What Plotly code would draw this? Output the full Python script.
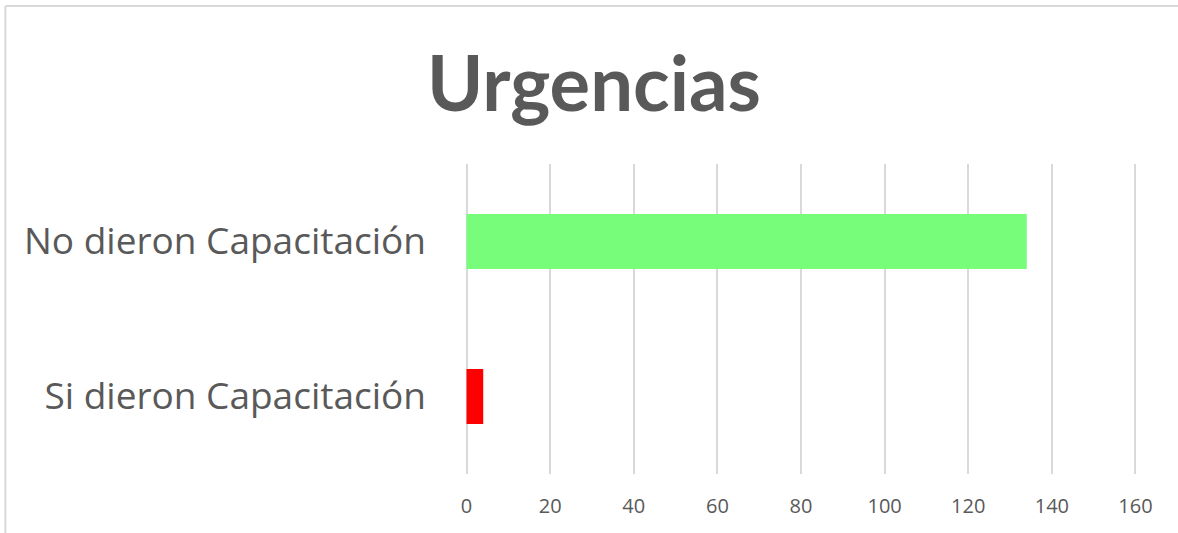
import plotly.graph_objects as go

categories = ["Si dieron Capacitación", "No dieron Capacitación"]
values = [4, 134]
colors = ["#FF0000", "#77FD7A"]
x_ticks = [0, 20, 40, 60, 80, 100, 120, 140, 160]
title_text = "Urgencias"

W, H = 1178, 533
L, R, T, B = 464, 1138.5, 164, 474

fig = go.Figure(go.Bar(
    x=values, y=categories, orientation="h",
    marker=dict(color=colors, line=dict(width=0)),
    hoverinfo="x+y",
))

def px_x(p):
    return (p - L) / (R - L)

def px_y(p):
    return (B - p) / (B - T)

grey = "#595959"
grid = "#d9d9d9"
fig.update_layout(
    width=W, height=H,
    margin=dict(l=L, r=W - R, t=T, b=H - B, pad=0),
    paper_bgcolor="white", plot_bgcolor="white",
    showlegend=False,
    bargap=0.645,
    title=dict(text=f"<b>{title_text}</b>", x=594 / W, xanchor="center", xref="container",
               y=1 - 84 / H, yanchor="middle",
               font=dict(family="Lato", size=76, color=grey)),
    xaxis=dict(range=[-0.6, 160.6], tickvals=x_ticks, showgrid=True, gridcolor=grid,
               gridwidth=1.5, zeroline=False, showline=False, ticks="",
               tickfont=dict(family="Open Sans", size=20, color=grey),
               ticklabelstandoff=18, fixedrange=True),
    yaxis=dict(showgrid=False, zeroline=False, showline=False, ticks="",
               tickfont=dict(family="Open Sans", size=37, color=grey),
               ticklabelstandoff=37, fixedrange=True),
    shapes=[
        dict(type="line", xref="paper", yref="paper", x0=px_x(5), x1=px_x(1180),
             y0=px_y(6), y1=px_y(6), line=dict(color=grid, width=2), layer="below"),
        dict(type="line", xref="paper", yref="paper", x0=px_x(5), x1=px_x(5),
             y0=px_y(6), y1=px_y(540), line=dict(color=grid, width=2), layer="below"),
    ],
)

fig.write_html("out.html", config={"displayModeBar": False},
               post_script="document.body.style.margin='0';")
